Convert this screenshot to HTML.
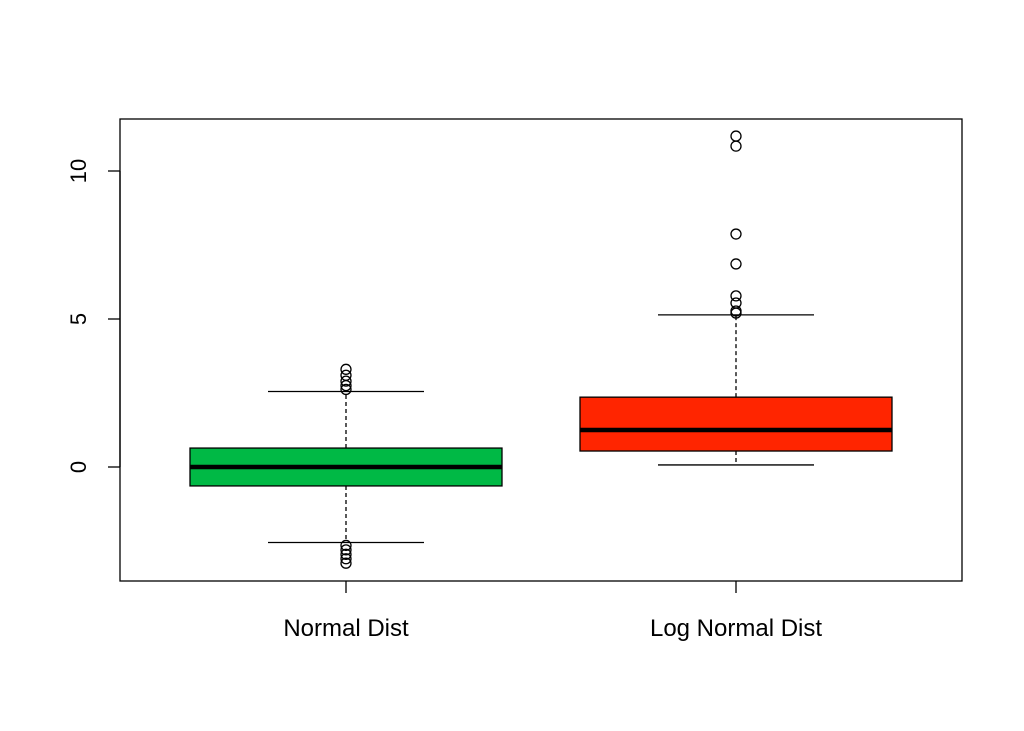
<!DOCTYPE html>
<html><head><meta charset="utf-8"><style>body{margin:0;background:#fff}svg{display:block}text{font-family:"Liberation Sans",sans-serif;font-size:22px;fill:#000}.cat{font-size:24px}</style></head>
<body>
<svg id="chart" width="1024" height="731" xmlns="http://www.w3.org/2000/svg">
<rect x="120" y="119" width="842" height="462" fill="none" stroke="#000" stroke-width="1.3"/>
<g id="yaxis"></g>
<g id="xaxis"></g>
<g id="boxes"></g>
</svg>
<script>
const categories=["Normal Dist","Log Normal Dist"];
const colors=["#00b945","#ff2500"];
const q1=[-0.64,0.54];
const medians=[0,1.25];
const q3=[0.64,2.36];
const whiskLo=[-2.55,0.07];
const whiskHi=[2.55,5.14];
const outliers=[[3.3,3.1,2.9,2.75,2.62,-2.65,-2.8,-2.95,-3.1,-3.25],[11.18,10.84,7.87,6.86,5.78,5.54,5.27,5.2]];
const yTicks=[0,5,10];
const NS="http://www.w3.org/2000/svg";
const y=v=>467-29.6*v;
const x=i=>346+390*i;
function mk(tag,attrs,parent){const e=document.createElementNS(NS,tag);for(const k in attrs)e.setAttribute(k,attrs[k]);parent.appendChild(e);return e;}
const ya=document.getElementById('yaxis'),xa=document.getElementById('xaxis'),bx=document.getElementById('boxes');
mk('line',{x1:120,x2:120,y1:y(0),y2:y(10),stroke:'#000','stroke-width':1.3},ya);
yTicks.forEach(t=>{
 const l=mk('line',{x1:120,x2:108,y1:y(t),y2:y(t),stroke:'#000','stroke-width':1.3},ya);
 
 
 const tx=mk('text',{x:0,y:0,'text-anchor':'middle',transform:`translate(86,${y(t)}) rotate(-90)`},ya);
 tx.textContent=t;
 
 
});
categories.forEach((c,i)=>{
 const cx=x(i),hw=156;
 const l=mk('line',{x1:cx,x2:cx,y1:581,y2:593,stroke:'#000','stroke-width':1.3},xa);
 
 
 const tx=mk('text',{x:cx,y:636,'text-anchor':'middle','class':'cat'},xa);
 tx.textContent=c;
 
 
 const g=mk('g',{},bx);
 
 
 mk('line',{x1:cx,x2:cx,y1:y(q3[i]),y2:y(whiskHi[i]),stroke:'#000','stroke-dasharray':'4,3','stroke-width':1.3},g);
 mk('line',{x1:cx,x2:cx,y1:y(q1[i]),y2:y(whiskLo[i]),stroke:'#000','stroke-dasharray':'4,3','stroke-width':1.3},g);
 mk('line',{x1:cx-78,x2:cx+78,y1:y(whiskHi[i]),y2:y(whiskHi[i]),stroke:'#000','stroke-width':1.3},g);
 mk('line',{x1:cx-78,x2:cx+78,y1:y(whiskLo[i]),y2:y(whiskLo[i]),stroke:'#000','stroke-width':1.3},g);
 mk('rect',{x:cx-hw,y:y(q3[i]),width:2*hw,height:y(q1[i])-y(q3[i]),fill:colors[i],stroke:'#000','stroke-width':1.3},g);
 mk('line',{x1:cx-hw,x2:cx+hw,y1:y(medians[i]),y2:y(medians[i]),stroke:'#000','stroke-width':4.5},g);
 outliers[i].forEach(o=>{
  const p=mk('circle',{cx:cx,cy:y(o),r:5,fill:'none',stroke:'#000','stroke-width':1.3},g);
  
  
 });
});
</script>
</body></html>
